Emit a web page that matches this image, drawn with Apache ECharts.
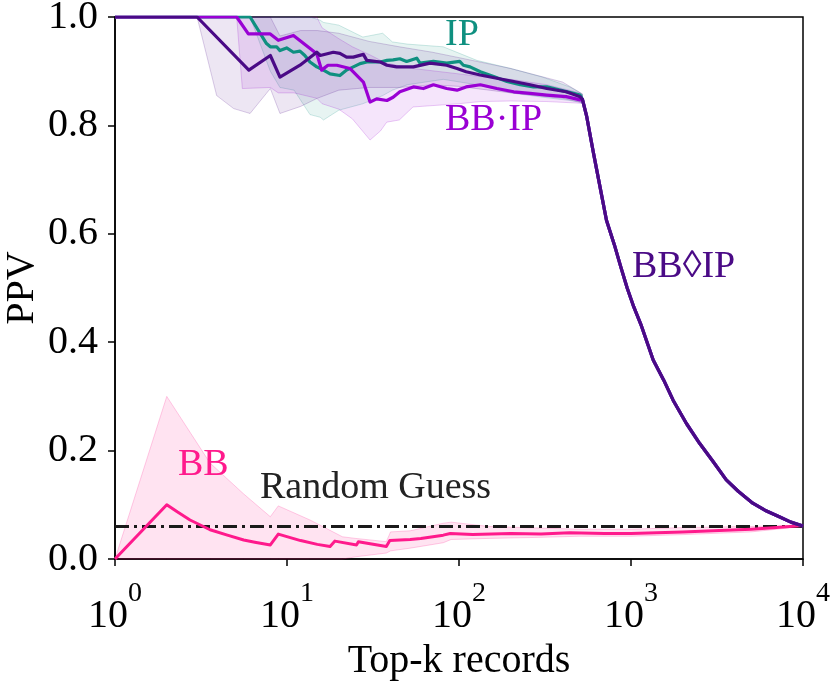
<!DOCTYPE html>
<html lang="en">
<head>
    <meta charset="UTF-8">
    <title>PPV vs Top-k</title>
    <script src="https://cdn.jsdelivr.net/npm/echarts@6/dist/echarts.min.js"></script>
    <style>
        html, body { margin: 0; padding: 0; background: #fff; }
        #main { width: 830px; height: 682px; }
    </style>
</head>
<body>
<div id="main"></div>
<script type="text/javascript">
    // common collapse of the three IP-based curves after k ~ 520
    var TAIL_K   = [522, 553, 600, 632, 720, 800, 872, 950, 1038, 1150, 1346, 1550, 1757, 2100, 2510, 3000, 3580, 4200, 5105, 6000, 7280, 8500, 10000];
    var TAIL_PPV = [0.848, 0.816, 0.755, 0.718, 0.625, 0.58, 0.539, 0.50, 0.465, 0.43, 0.367, 0.33, 0.293, 0.25, 0.213, 0.18, 0.146, 0.125, 0.103, 0.09, 0.078, 0.068, 0.061];

    // IP
    var IP_K   = [1, 6.1, 7.6, 8, 8.7, 9.1, 9.95, 10.9, 11.9, 12.7, 13.6, 14.9, 16.3, 17.8, 20.3, 22.2, 24.3, 26.6, 29.1, 34.9, 38.1, 41.4, 45.3, 49.6, 56.8, 59.3, 71, 84.8, 101, 106, 116, 133, 159, 190, 227, 271, 324, 387, 463, 506];
    var IP_PPV = [1, 1, 0.951, 0.945, 0.945, 0.938, 0.943, 0.935, 0.937, 0.929, 0.917, 0.908, 0.902, 0.895, 0.892, 0.902, 0.908, 0.914, 0.917, 0.917, 0.920, 0.921, 0.923, 0.918, 0.924, 0.915, 0.918, 0.915, 0.918, 0.911, 0.908, 0.899, 0.890, 0.881, 0.875, 0.871, 0.871, 0.865, 0.859, 0.856];
    var IP_BAND_K = [1, 6.1, 8, 9.1, 11, 13.6, 15.6, 16.3, 20, 27.6, 36, 41, 50, 81, 127, 200, 307, 440, 522];
    var IP_LO     = [1, 1, 0.90, 0.87, 0.865, 0.82, 0.815, 0.81, 0.828, 0.84, 0.855, 0.865, 0.875, 0.885, 0.875, 0.86, 0.852, 0.846, 0.842];
    var IP_HI     = [1, 1, 1, 1, 1, 1, 0.994, 0.99, 0.985, 0.963, 0.97, 0.954, 0.95, 0.945, 0.92, 0.905, 0.889, 0.871, 0.858];

    // BB·IP
    var BBIP_K   = [1, 5.1, 5.96, 7.96, 8.9, 10.9, 14.9, 15.9, 17.3, 19.5, 23.2, 27.8, 30.4, 33.2, 38.1, 41.4, 45.3, 54.3, 62, 71, 84.8, 97.4, 110, 133, 166, 208, 259, 324, 420, 506];
    var BBIP_PPV = [1, 1, 0.969, 0.969, 0.957, 0.966, 0.932, 0.902, 0.911, 0.911, 0.905, 0.880, 0.843, 0.849, 0.846, 0.852, 0.862, 0.871, 0.868, 0.875, 0.868, 0.865, 0.871, 0.875, 0.868, 0.862, 0.859, 0.856, 0.853, 0.847];
    var BBIP_BAND_K = [1, 5.1, 5.5, 8, 8.9, 11, 14.9, 16, 20, 24, 30.4, 35, 38, 45, 54, 100, 133, 200, 324, 506, 522];
    var BBIP_LO     = [1, 1, 0.868, 0.87, 0.86, 0.86, 0.85, 0.84, 0.83, 0.812, 0.773, 0.79, 0.806, 0.81, 0.834, 0.84, 0.844, 0.845, 0.844, 0.841, 0.84];
    var BBIP_HI     = [1, 1, 1, 1, 1, 1, 1, 0.98, 0.96, 0.945, 0.93, 0.92, 0.915, 0.91, 0.905, 0.895, 0.89, 0.885, 0.875, 0.86, 0.855];

    // BB◇IP
    var BD_K   = [1, 3, 6, 8, 9.1, 11.9, 14.9, 15.6, 18.6, 20.3, 22.2, 24.3, 27.8, 29.1, 34.9, 38.1, 43.4, 54.3, 67.8, 84.8, 97.4, 110, 133, 166, 208, 259, 324, 420, 506];
    var BD_PPV = [1, 1, 0.902, 0.929, 0.889, 0.911, 0.935, 0.929, 0.935, 0.933, 0.926, 0.926, 0.931, 0.920, 0.917, 0.911, 0.908, 0.908, 0.915, 0.911, 0.905, 0.899, 0.893, 0.887, 0.881, 0.875, 0.868, 0.862, 0.853];
    var BD_BAND_K = [1, 3, 3.9, 4.9, 6.1, 8, 9.1, 12, 15, 20, 30, 45, 70, 100, 200, 400, 522];
    var BD_LO     = [1, 1, 0.855, 0.831, 0.822, 0.868, 0.822, 0.835, 0.85, 0.865, 0.87, 0.87, 0.875, 0.872, 0.86, 0.85, 0.842];
    var BD_HI     = [1, 1, 1, 1, 1, 1, 0.965, 0.975, 0.975, 0.97, 0.955, 0.945, 0.935, 0.925, 0.905, 0.88, 0.858];

    // BB
    var BB_K   = [1, 2, 2.3, 2.73, 3.57, 4.5, 5.6, 6.5, 8, 8.9, 12, 15, 17.8, 19, 25.4, 26, 37.8, 39.6, 52, 60, 81, 89, 120, 200, 300, 440, 700, 1000, 2000, 3000, 5000, 7000, 10000];
    var BB_PPV = [0, 0.1, 0.087, 0.072, 0.054, 0.044, 0.035, 0.031, 0.026, 0.046, 0.034, 0.027, 0.023, 0.033, 0.026, 0.032, 0.023, 0.034, 0.036, 0.038, 0.044, 0.047, 0.045, 0.047, 0.046, 0.0486, 0.047, 0.047, 0.05, 0.052, 0.055, 0.058, 0.062];
    var BB_BAND_K = [1, 2, 3.57, 5.6, 8, 8.9, 13.6, 21, 25, 37.8, 40, 52, 81, 90, 150, 300, 500, 1000, 2000, 5000, 10000];
    var BB_LO     = [0, 0, 0, 0, 0, 0, 0, 0, 0.004, 0.011, 0.015, 0.02, 0.03, 0.036, 0.038, 0.04, 0.042, 0.042, 0.045, 0.05, 0.06];
    var BB_HI     = [0, 0.30, 0.177, 0.12, 0.078, 0.098, 0.072, 0.041, 0.038, 0.032, 0.05, 0.052, 0.066, 0.068, 0.06, 0.057, 0.055, 0.055, 0.058, 0.06, 0.062];

    var RANDOM_K = [1, 10000];
    var RANDOM_PPV = [0.06, 0.06];

    var C_IP = '#0f9080', C_BBIP = '#9a00d4', C_BD = '#4a0a86', C_BB = '#ff1a8c';
    var FONT = "'Liberation Serif', 'DejaVu Serif', serif";

    function zip(ks, vs) {
        var out = [];
        for (var i = 0; i < ks.length; i++) out.push([ks[i], vs[i]]);
        return out;
    }

    function lineSeries(name, ks, vs, color, width) {
        return {
            name: name,
            type: 'line',
            data: zip(ks, vs),
            showSymbol: false,
            symbol: 'none',
            silent: true,
            lineStyle: { color: color, width: width, join: 'round' },
            z: 5
        };
    }

    function bandSeries(ks, lo, hi, color, alpha) {
        return {
            type: 'custom',
            coordinateSystem: 'cartesian2d',
            silent: true,
            data: [[ks[0], lo[0]]],
            z: 1,
            renderItem: function (params, api) {
                var pts = [];
                for (var i = 0; i < ks.length; i++) pts.push(api.coord([ks[i], hi[i]]));
                for (var j = ks.length - 1; j >= 0; j--) pts.push(api.coord([ks[j], lo[j]]));
                return {
                    type: 'polygon',
                    shape: { points: pts },
                    style: {
                        fill: echarts.color.modifyAlpha(color, alpha),
                        stroke: echarts.color.modifyAlpha(color, alpha + 0.1),
                        lineWidth: 1
                    }
                };
            }
        };
    }

    function label(text, x, y, color) {
        return {
            type: 'text',
            x: x,
            y: y,
            z: 10,
            style: {
                text: text,
                fill: color,
                font: '38px ' + FONT,
                align: 'left',
                verticalAlign: 'middle'
            }
        };
    }

    var chart = echarts.init(document.getElementById('main'));
    var option = {
        animation: false,
        backgroundColor: '#fff',
        grid: {
            left: 115, right: 27, top: 17, bottom: 123,
            show: true, borderColor: '#000', borderWidth: 1.5,
            outerBoundsMode: 'none'
        },
        xAxis: {
            type: 'log',
            logBase: 10,
            min: 1,
            max: 10000,
            name: 'Top-k records',
            nameLocation: 'middle',
            nameGap: 82,
            nameMoveOverlap: false,
            nameTextStyle: { fontFamily: FONT, fontSize: 40, color: '#000' },
            axisLine: { show: true, lineStyle: { color: '#000', width: 1.5 } },
            axisTick: { show: true, inside: false, length: 7, lineStyle: { color: '#000', width: 1.5 } },
            minorTick: { show: false },
            splitLine: { show: false },
            axisLabel: {
                margin: 21,
                formatter: function (v) {
                    return '{b|10}{e|' + Math.round(Math.log10(v)) + '}';
                },
                rich: {
                    b: { fontFamily: FONT, fontSize: 40, lineHeight: 56, color: '#000', verticalAlign: 'bottom' },
                    e: { fontFamily: FONT, fontSize: 28, lineHeight: 28, color: '#000', verticalAlign: 'top' }
                }
            }
        },
        yAxis: {
            type: 'value',
            min: 0,
            max: 1,
            interval: 0.2,
            name: 'PPV',
            nameLocation: 'middle',
            nameGap: 73,
            nameMoveOverlap: false,
            nameTextStyle: { fontFamily: FONT, fontSize: 40, color: '#000' },
            axisLine: { show: true, lineStyle: { color: '#000', width: 1.5 } },
            axisTick: { show: true, inside: false, length: 7, lineStyle: { color: '#000', width: 1.5 } },
            splitLine: { show: false },
            axisLabel: {
                margin: 17,
                fontFamily: FONT,
                fontSize: 40,
                color: '#000',
                formatter: function (v) { return v.toFixed(1); }
            }
        },
        graphic: [
            label('IP', 445, 35, C_IP),
            label('BB\u00b7IP', 445, 120, C_BBIP),
            label('BB\u25caIP', 632, 267, C_BD),
            label('BB', 178, 465, C_BB),
            label('Random Guess', 260, 488, '#222')
        ],
        series: [
            bandSeries(BB_BAND_K, BB_LO, BB_HI, C_BB, 0.12),
            bandSeries(IP_BAND_K, IP_LO, IP_HI, C_IP, 0.1),
            bandSeries(BBIP_BAND_K, BBIP_LO, BBIP_HI, C_BBIP, 0.1),
            bandSeries(BD_BAND_K, BD_LO, BD_HI, C_BD, 0.1),
            {
                name: 'Random Guess',
                type: 'line',
                data: zip(RANDOM_K, RANDOM_PPV),
                showSymbol: false,
                symbol: 'none',
                silent: true,
                lineStyle: { color: '#1a1a1a', width: 3, type: [14, 5, 3, 5] },
                z: 3
            },
            lineSeries('BB', BB_K, BB_PPV, C_BB, 3),
            lineSeries('IP', IP_K.concat(TAIL_K), IP_PPV.concat(TAIL_PPV), C_IP, 3.2),
            lineSeries('BB\u00b7IP', BBIP_K.concat(TAIL_K), BBIP_PPV.concat(TAIL_PPV), C_BBIP, 3.2),
            lineSeries('BB\u25c7IP', BD_K.concat(TAIL_K), BD_PPV.concat(TAIL_PPV), C_BD, 3.2)
        ]
    };
    chart.setOption(option);
</script>
</body>
</html>
